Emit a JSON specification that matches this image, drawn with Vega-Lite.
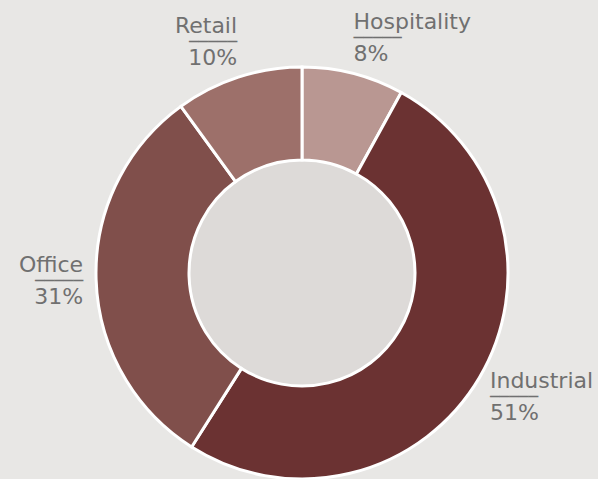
{
  "$schema": "https://vega.github.io/schema/vega-lite/v6.json",
  "width": 592,
  "height": 412,
  "autosize": {"type": "none"},
  "padding": {"left": 6, "top": 67, "right": 0, "bottom": 0},
  "background": "#e8e7e5",
  "config": {"view": {"stroke": null}},
  "data": {
    "values": [
      {"Category": "Hospitality", "Value": 8, "Label": "8%"},
      {"Category": "Industrial", "Value": 51, "Label": "51%"},
      {"Category": "Office", "Value": 31, "Label": "31%"},
      {"Category": "Retail", "Value": 10, "Label": "10%"}
    ]
  },
  "layer": [
    {
      "transform": [{"aggregate": [{"op": "sum", "field": "Value", "as": "Total"}]}],
      "mark": {"type": "arc", "outerRadius": 112, "fill": "#dddad8"},
      "encoding": {}
    },
    {
      "mark": {"type": "arc", "outerRadius": 206, "innerRadius": 113, "stroke": "#ffffff", "strokeWidth": 3},
      "encoding": {
        "theta": {"field": "Value", "type": "quantitative", "stack": true},
        "order": {"field": "Category", "type": "ordinal"},
        "color": {
          "field": "Category",
          "type": "nominal",
          "scale": {
            "domain": ["Hospitality", "Industrial", "Office", "Retail"],
            "range": ["#b99792", "#6b3232", "#804f4b", "#9d706a"]
          },
          "legend": null
        }
      }
    },
    {
      "mark": {"type": "text", "radius": 243, "align": "left", "dx": {"expr": "-4 - 20*abs(sin(scale('theta', 0.5*datum.Value_start + 0.5*datum.Value_end)))"}, "dy": -9, "baseline": "alphabetic", "font": "DejaVu Sans", "fontSize": 22, "fill": "#707070"},
      "encoding": {
        "theta": {"field": "Value", "type": "quantitative", "stack": true},
        "order": {"field": "Category", "type": "ordinal"},
        "text": {"condition": {"test": "datum.Category == 'Hospitality' || datum.Category == 'Industrial'", "field": "Category"}, "value": ""}
      }
    },
    {
      "mark": {"type": "text", "radius": 243, "align": "left", "dx": {"expr": "-4 - 20*abs(sin(scale('theta', 0.5*datum.Value_start + 0.5*datum.Value_end)))"}, "dy": 23, "baseline": "alphabetic", "font": "DejaVu Sans", "fontSize": 22, "fill": "#707070"},
      "encoding": {
        "theta": {"field": "Value", "type": "quantitative", "stack": true},
        "order": {"field": "Category", "type": "ordinal"},
        "text": {"condition": {"test": "datum.Category == 'Hospitality' || datum.Category == 'Industrial'", "field": "Label"}, "value": ""}
      }
    },
    {
      "mark": {"type": "text", "radius": 243, "align": "left", "dx": {"expr": "-4 - 20*abs(sin(scale('theta', 0.5*datum.Value_start + 0.5*datum.Value_end)))"}, "dy": 0, "baseline": "middle", "font": "DejaVu Sans Mono", "fontSize": 16, "fill": "#707070"},
      "encoding": {
        "theta": {"field": "Value", "type": "quantitative", "stack": true},
        "order": {"field": "Category", "type": "ordinal"},
        "text": {"condition": {"test": "datum.Category == 'Hospitality' || datum.Category == 'Industrial'", "value": "─────"}, "value": ""}
      }
    },
    {
      "mark": {"type": "text", "radius": 243, "align": "right", "dx": {"expr": "4 + 20*abs(sin(scale('theta', 0.5*datum.Value_start + 0.5*datum.Value_end)))"}, "dy": -9, "baseline": "alphabetic", "font": "DejaVu Sans", "fontSize": 22, "fill": "#707070"},
      "encoding": {
        "theta": {"field": "Value", "type": "quantitative", "stack": true},
        "order": {"field": "Category", "type": "ordinal"},
        "text": {"condition": {"test": "datum.Category == 'Office' || datum.Category == 'Retail'", "field": "Category"}, "value": ""}
      }
    },
    {
      "mark": {"type": "text", "radius": 243, "align": "right", "dx": {"expr": "4 + 20*abs(sin(scale('theta', 0.5*datum.Value_start + 0.5*datum.Value_end)))"}, "dy": 23, "baseline": "alphabetic", "font": "DejaVu Sans", "fontSize": 22, "fill": "#707070"},
      "encoding": {
        "theta": {"field": "Value", "type": "quantitative", "stack": true},
        "order": {"field": "Category", "type": "ordinal"},
        "text": {"condition": {"test": "datum.Category == 'Office' || datum.Category == 'Retail'", "field": "Label"}, "value": ""}
      }
    },
    {
      "mark": {"type": "text", "radius": 243, "align": "right", "dx": {"expr": "4 + 20*abs(sin(scale('theta', 0.5*datum.Value_start + 0.5*datum.Value_end)))"}, "dy": 0, "baseline": "middle", "font": "DejaVu Sans Mono", "fontSize": 16, "fill": "#707070"},
      "encoding": {
        "theta": {"field": "Value", "type": "quantitative", "stack": true},
        "order": {"field": "Category", "type": "ordinal"},
        "text": {"condition": {"test": "datum.Category == 'Office' || datum.Category == 'Retail'", "value": "─────"}, "value": ""}
      }
    }
  ]
}
